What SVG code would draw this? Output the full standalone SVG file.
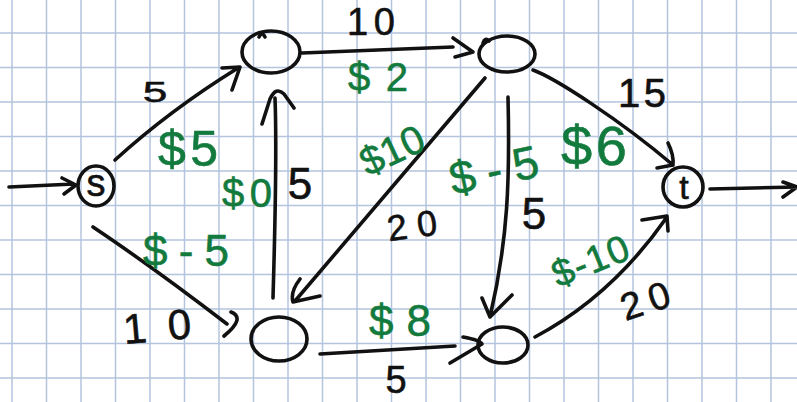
<svg xmlns="http://www.w3.org/2000/svg" width="797" height="402" viewBox="0 0 797 402">
  <style>
    .grid { stroke: #b4c4dd; stroke-width: 1.5; fill: none; }
    .ink { fill: none; stroke: #111; stroke-width: 3.6; stroke-linecap: round; stroke-linejoin: round; }
    .lbl { font-family: "Liberation Sans", "DejaVu Sans", sans-serif; text-anchor: middle; stroke-width: 0.6; stroke-linejoin: round; }
    .cap { fill: #111; stroke: #111; }
    .cost { fill: #137a3e; stroke: #137a3e; }
    .nm { font-family: "Liberation Sans", "DejaVu Sans", sans-serif; text-anchor: middle; fill: #111; stroke: #111; stroke-width: 0.6; }
  </style>

  <rect width="797" height="402" fill="#ffffff"/>

  <!-- graph paper -->
  <path class="grid" d="M12,0V402 M46.5,0V402 M81,0V402 M115.5,0V402 M150,0V402 M184.5,0V402 M219,0V402 M253.5,0V402 M288,0V402 M322.5,0V402 M357,0V402 M391.5,0V402 M426,0V402 M460.5,0V402 M495,0V402 M529.5,0V402 M564,0V402 M598.5,0V402 M633,0V402 M667.5,0V402 M702,0V402 M736.5,0V402 M771,0V402
    M0,33H797 M0,67.5H797 M0,102H797 M0,136.5H797 M0,171H797 M0,205.5H797 M0,240H797 M0,274.5H797 M0,309H797 M0,343.5H797 M0,378H797"/>

  <!-- connectors -->
  <g id="edges">
    <g id="e-in"><path class="ink" d="M9,187 L74,184 M62,178 L76,185 L64,194"/></g>
    <g id="e-s-a"><path class="ink" d="M115,160 Q170,110 238,68 M222,68 L240,67 L232,90"/></g>
    <g id="e-a-b"><path class="ink" d="M302,53 L453,47 M453,38 L473,52 L455,57"/></g>
    <g id="e-b-t"><path class="ink" d="M533,70 C555,78 620,120 673,165 M668,143 Q674,155 673,165 L657,168"/></g>
    <g id="e-out"><path class="ink" d="M710,189 L797,187 M783,182 L797,187 L783,197"/></g>
    <g id="e-s-c"><path class="ink" d="M93,227 Q150,265 227,324 M231,312 Q246,318 224,336"/></g>
    <g id="e-c-a"><path class="ink" d="M273,298 C275,230 277,150 275,98 M262,124 L270,99 Q276,86 284,94 L294,108"/></g>
    <g id="e-b-c"><path class="ink" d="M485,78 L295,301 M300,279 Q290,292 293,302 L320,296"/></g>
    <g id="e-b-d"><path class="ink" d="M508,97 C510,180 508,240 490,317 M482,298 L490,317 L512,295"/></g>
    <g id="e-c-d"><path class="ink" d="M320,354 L455,346 M463,337 Q480,340 482,344 L450,363"/></g>
    <g id="e-d-t"><path class="ink" d="M535,337 Q612,296 667,217 M642,220 L667,216 L668,231"/></g>
  </g>

  <!-- nodes -->
  <g id="node-s">
    <ellipse class="ink" cx="96" cy="186" rx="18" ry="20"/>
    <text class="nm" x="96" y="196" font-size="38">s</text>
  </g>
  <g id="node-a">
    <ellipse class="ink" cx="271" cy="52" rx="29" ry="21"/>
    <path class="ink" d="M259,37 Q262,31 265,37"/>
  </g>
  <g id="node-b">
    <ellipse class="ink" cx="507" cy="54" rx="28" ry="18"/>
    <path class="ink" d="M483,43 Q485,37 489,41"/>
  </g>
  <g id="node-t">
    <circle class="ink" cx="683" cy="187" r="20"/>
    <text class="nm" x="684" y="199" font-size="34">t</text>
  </g>
  <g id="node-c">
    <ellipse class="ink" cx="279" cy="339" rx="28" ry="22"/>
  </g>
  <g id="node-d">
    <ellipse class="ink" cx="503" cy="345" rx="25" ry="18"/>
  </g>

  <!-- capacities (black) and costs (green) -->
  <g id="labels">
    <text class="lbl cap" transform="translate(155,92) scale(1.3,0.85)" x="0" y="12" font-size="34">5</text>
    <text class="lbl cost" x="188" y="166" font-size="50" textLength="60" lengthAdjust="spacing">$5</text>
    <text class="lbl cap" x="371" y="35" font-size="38" textLength="48" lengthAdjust="spacing">10</text>
    <text class="lbl cost" x="378" y="91" font-size="40" textLength="60" lengthAdjust="spacing">$2</text>
    <text class="lbl cap" x="642" y="107" font-size="40" textLength="48" lengthAdjust="spacing">15</text>
    <text class="lbl cost" x="594" y="165" font-size="56" textLength="66" lengthAdjust="spacing">$6</text>
    <text class="lbl cost" transform="translate(392,150) rotate(-25)" x="0" y="14" font-size="40">$10</text>
    <text class="lbl cap" transform="translate(412,225) rotate(-8)" x="0" y="13" font-size="36" textLength="50" lengthAdjust="spacing">20</text>
    <text class="lbl cost" transform="translate(494,170) rotate(-12)" x="0" y="16" font-size="46" textLength="90" lengthAdjust="spacing">$-5</text>
    <text class="lbl cap" x="534" y="229" font-size="44">5</text>
    <text class="lbl cost" x="247" y="207" font-size="40" textLength="50" lengthAdjust="spacing">$0</text>
    <text class="lbl cap" x="300" y="199" font-size="44">5</text>
    <text class="lbl cost" x="186" y="266" font-size="44" textLength="86" lengthAdjust="spacing">$-5</text>
    <text class="lbl cap" transform="translate(157,326) rotate(-5)" x="0" y="15" font-size="42" textLength="68" lengthAdjust="spacing">10</text>
    <text class="lbl cost" x="400" y="336" font-size="44" textLength="62" lengthAdjust="spacing">$8</text>
    <text class="lbl cap" x="396" y="393" font-size="38">5</text>
    <text class="lbl cost" transform="translate(590,260) rotate(-22)" x="0" y="14" font-size="38" textLength="80" lengthAdjust="spacing">$-10</text>
    <text class="lbl cap" transform="translate(645,300) rotate(-18)" x="0" y="14" font-size="38" textLength="50" lengthAdjust="spacing">20</text>
  </g>
</svg>
